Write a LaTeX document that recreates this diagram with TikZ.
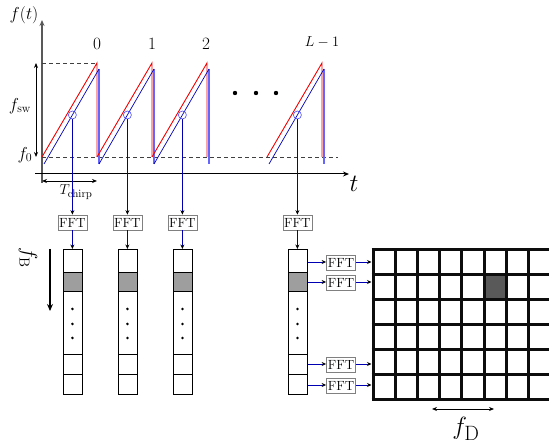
\documentclass[tikz,border=0pt]{standalone}
\usetikzlibrary{arrows.meta}
\begin{document}
\begin{tikzpicture}[x=1pt,y=-1pt,
  redl/.style={red!95!black,line width=0.9pt},
  bluel/.style={blue!70!black,line width=0.7pt},
  bluev/.style={blue!60,line width=1.1pt},
  dashl/.style={black!75,dashed,dash pattern=on 4pt off 3pt,line width=0.9pt},
  dim/.style={{Stealth[length=5pt,width=4pt]}-{Stealth[length=5pt,width=4pt]},line width=0.8pt},
  feed/.style={blue!70!black,line width=0.7pt,-{Stealth[length=4.5pt,width=4pt,color=black]}},
  fftbox/.style={draw=black!50,line width=0.8pt,inner sep=0.5pt,minimum width=29pt,minimum height=15pt,font=\fontsize{13.3}{14}\selectfont},
  cell/.style={draw,line width=0.7pt,fill=white},
  gridl/.style={line width=3pt,black!95},
  lbl/.style={inner sep=0pt,font=\fontsize{18}{20}\selectfont}]
\useasboundingbox (0,0) rectangle (549,443);
% axes
\draw[black!65,line width=2.2pt,-{Stealth[length=6pt,width=5pt]}] (42,183) -- (42,20);
\draw[line width=1pt,-{Stealth[length=6pt,width=5pt]}] (35,174) -- (349,174);
\node[lbl] (ft) at (24,15) {$f(t)$};
\node[inner sep=0pt,font=\fontsize{26}{28}\selectfont] (tl) at (354,184) {$t$};
% dashed levels
\draw[dashl] (42,63) -- (97,63);
\draw[dashl] (42,157) -- (338,157);
% dimensions
\coordinate (sw1) at (36,63); \coordinate (sw2) at (36,157);
\draw[dim] (sw1) -- (sw2);
\node[lbl] (fsw) at (20,106) {$f_{\mathrm{sw}}$};
\node[lbl] (f0) at (25,155) {$f_0$};
\coordinate (tc1) at (42,181); \coordinate (tc2) at (97,181);
\draw[dim] (tc1) -- (tc2);
\node[lbl,font=\fontsize{15}{16}\selectfont] (tch) at (76,192) {$T_{\mathrm{chirp}}$};
% chirps
\foreach \s/\n in {42/0,97/1,152/2,267/3}{
  \draw[bluev] (\s+57,69) -- (\s+57,164);
  \draw[redl] (\s,157) -- (\s+55,63) -- (\s+55,157);
  \draw[bluel] (\s+2,164) -- (\s+57,69);
  \node[circle,draw=blue!70,line width=0.6pt,minimum size=8pt,inner sep=0pt] (c\n) at (\s+30.4,115) {};
}
\node[lbl] (n0) at (97,44) {$0$};
\node[lbl] (n1) at (152,44) {$1$};
\node[lbl] (n2) at (206,44) {$2$};
\node[lbl,font=\fontsize{14.5}{16}\selectfont] (nL) at (322,42) {$L-1$};
\foreach \x in {235,256,276} \fill (\x,93) circle (2.2pt);
% FFT boxes and columns
\foreach \x/\n in {72.4/0,127.4/1,182.4/2,297.4/3}{
  \node[fftbox] (fft\n) at (\x,222.5) {FFT};
  \draw[feed] (c\n) -- (fft\n);
  \draw[cell] (\x-9.5,249) rectangle (\x+9.5,272);
  \draw[cell,fill=black!38] (\x-9.5,272) rectangle (\x+9.5,291);
  \draw[cell] (\x-9.5,291) rectangle (\x+9.5,354);
  \draw[cell] (\x-9.5,354) rectangle (\x+9.5,374);
  \draw[cell] (\x-9.5,374) rectangle (\x+9.5,394);
  \coordinate (top\n) at (\x,249);
  \draw[feed] (fft\n) -- (top\n);
  \foreach \y in {309,324,338} \fill (\x,\y) circle (1.4pt);
}
% f_B
\node[lbl,font=\fontsize{22}{24}\selectfont,rotate=-90] (fB) at (28,258) {$f_{\mathrm{B}}$};
\coordinate (fb1) at (50,249); \coordinate (fb2) at (50,311);
\draw[line width=1.8pt,-{Stealth[length=7pt,width=6pt]}] (fb1) -- (fb2);
% grid
\fill[black!65] (484,275) rectangle (506.2,300);
\foreach \i in {0,...,7} \draw[gridl] (373+22.2*\i,250) -- (373+22.2*\i,400);
\foreach \j in {0,...,6} \draw[gridl] (371.5,250+25*\j) -- (552,250+25*\j);
% row FFTs
\foreach \y/\m in {262/1,282/2,364/5,385/6}{
  \node[fftbox] (rf\m) at (341,\y+1) {FFT};
  \coordinate (rs\m) at (308,\y);
  \coordinate (rg\m) at (371.5,\y);
  \draw[feed] (rs\m) -- (rs\m -| rf\m.west);
  \draw[feed] (rg\m -| rf\m.east) -- (rg\m);
}
% f_D
\coordinate (fd1) at (432,409); \coordinate (fd2) at (494,409);
\draw[dim] (fd1) -- (fd2);
\node[inner sep=0pt,font=\fontsize{28}{30}\selectfont] (fD) at (466,429) {$f_{\mathrm{D}}$};
\end{tikzpicture}
\end{document}
